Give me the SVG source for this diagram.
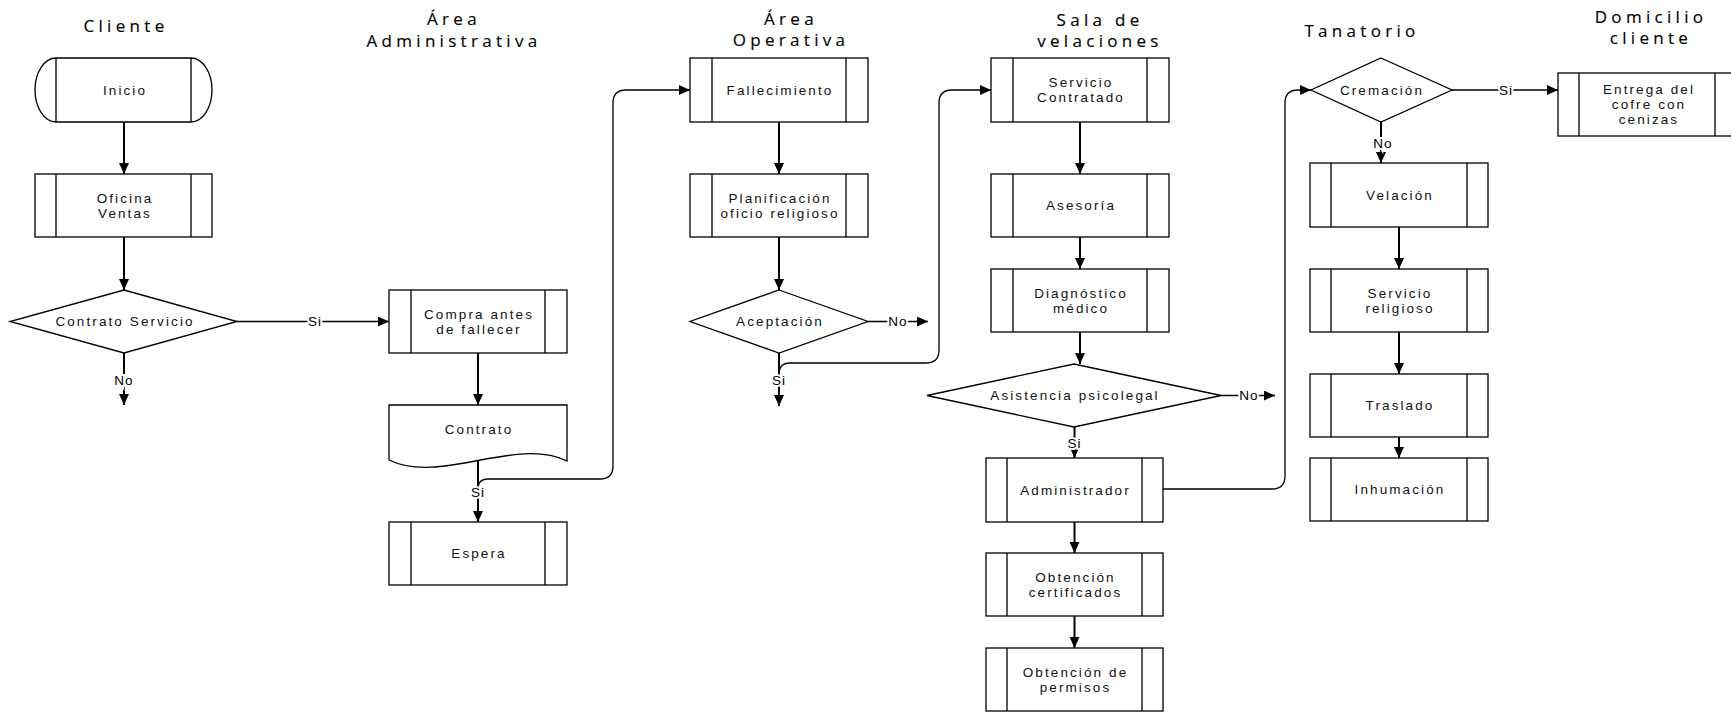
<svg xmlns="http://www.w3.org/2000/svg" width="1731" height="712" viewBox="0 0 1731 712">
<defs>
<marker id="ah" markerUnits="userSpaceOnUse" markerWidth="11" markerHeight="10" refX="11" refY="5" orient="auto">
<path d="M0,0 L11,5 L0,10 Z" fill="#000"/>
</marker>
<style>
.sh{fill:#fff;stroke:#000;stroke-width:1.3}
.ln{stroke:#000;stroke-width:1.3;fill:none}
.t{font-family:"Liberation Sans",Arial,sans-serif;font-size:13.5px;letter-spacing:2.1px;text-anchor:middle;fill:#111}
.h{font-family:"Open Sans","DejaVu Sans",sans-serif;font-size:17px;letter-spacing:4.3px;text-anchor:middle;fill:#000;stroke:#000;stroke-width:0.15px}
.cv{stroke:#000;stroke-width:2;fill:none;marker-end:url(#ah)}
.ch{stroke:#000;stroke-width:1.3;fill:none;marker-end:url(#ah)}
.lb{font-family:"Liberation Sans",Arial,sans-serif;font-size:13.5px;letter-spacing:1px;text-anchor:middle;fill:#000;stroke:#fff;stroke-width:4px;paint-order:stroke}
</style>
</defs>
<rect width="1731" height="712" fill="#fff"/>
<g id="titles">
<text class="h" x="126" y="32">Cliente</text>
<text class="h" x="454" y="25">Área</text>
<text class="h" x="454" y="47">Administrativa</text>
<text class="h" x="791" y="25">Área</text>
<text class="h" x="791" y="46">Operativa</text>
<text class="h" x="1100" y="26">Sala de</text>
<text class="h" x="1100" y="47">velaciones</text>
<text class="h" x="1362" y="37">Tanatorio</text>
<text class="h" x="1651" y="23">Domicilio</text>
<text class="h" x="1651" y="44">cliente</text>
</g>
<g id="connectors">
<path class="cv" d="M124,122 L124,174"/>
<path class="cv" d="M124,237 L124,290"/>
<path class="cv" d="M124,353 L124,405"/>
<path class="ch" d="M237,321.5 L389,321.5"/>
<path class="cv" d="M478,353 L478,405"/>
<path class="cv" d="M478,461 L478,522"/>
<path class="ch" d="M478,487 Q479,479 488,479 L600,479 Q613,479 613,466 L613,103 Q613,90 626,90 L690,90"/>
<path class="cv" d="M779,122 L779,174"/>
<path class="cv" d="M779,237 L779,290"/>
<path class="cv" d="M779,353 L779,406"/>
<path class="ch" d="M868,321.5 L928,321.5"/>
<path class="ch" d="M779,372 Q780,363 790,363 L926,363 Q939,363 939,350 L939,103 Q939,90 952,90 L991,90"/>
<path class="cv" d="M1080,122 L1080,174"/>
<path class="cv" d="M1080,237 L1080,269"/>
<path class="cv" d="M1080,332 L1080,364"/>
<path class="ch" d="M1221,395.5 L1275,395.5"/>
<path class="cv" d="M1074.5,427 L1074.5,458"/>
<path class="cv" d="M1074.5,522 L1074.5,553"/>
<path class="cv" d="M1074.5,616 L1074.5,648"/>
<path class="ch" d="M1163,489 L1272,489 Q1285,489 1285,476 L1285,103 Q1285,90 1298,90 L1311,90"/>
<path class="ch" d="M1452,90 L1558,90"/>
<path class="cv" d="M1381,122 L1381,163"/>
<path class="cv" d="M1399,227 L1399,269"/>
<path class="cv" d="M1399,332 L1399,374"/>
<path class="cv" d="M1399,437 L1399,458"/>
<text class="lb" x="124" y="385">No</text>
<text class="lb" x="315" y="326">Si</text>
<text class="lb" x="478" y="497">Si</text>
<text class="lb" x="779" y="385">Si</text>
<text class="lb" x="898" y="326">No</text>
<text class="lb" x="1249" y="400">No</text>
<text class="lb" x="1074.5" y="448">Si</text>
<text class="lb" x="1383" y="148">No</text>
<text class="lb" x="1506" y="95">Si</text>
</g>
<g id="inicio">
<path class="sh" d="M56,58 L191,58 A21,32 0 0 1 191,122 L56,122 A21,32 0 0 1 56,58 Z"/>
<path class="ln" d="M56,58 V122 M191,58 V122"/>
<text class="t" x="125" y="94.5">Inicio</text>
</g>
<g id="oficina-ventas">
<rect class="sh" x="35" y="174" width="177" height="63"/>
<path class="ln" d="M56,174 V237 M191,174 V237"/>
<text class="t" x="125" y="202.5">Oficina</text>
<text class="t" x="125" y="217.5">Ventas</text>
</g>
<g id="contrato-servicio">
<polygon class="sh" points="124,290 237,321.5 124,353 10,321.5"/>
<text class="t" x="125" y="326">Contrato Servicio</text>
</g>
<g id="compra">
<rect class="sh" x="389" y="290" width="178" height="63"/>
<path class="ln" d="M411,290 V353 M545,290 V353"/>
<text class="t" x="479" y="318.5">Compra antes</text>
<text class="t" x="479" y="333.5">de fallecer</text>
</g>
<g id="contrato">
<path class="sh" d="M389,405 L567,405 L567,461 C516,436 440,485 389,460 Z"/>
<text class="t" x="479" y="434">Contrato</text>
</g>
<g id="espera">
<rect class="sh" x="389" y="522" width="178" height="63"/>
<path class="ln" d="M411,522 V585 M545,522 V585"/>
<text class="t" x="479" y="558">Espera</text>
</g>
<g id="fallecimiento">
<rect class="sh" x="690" y="58" width="178" height="64"/>
<path class="ln" d="M712,58 V122 M846,58 V122"/>
<text class="t" x="780" y="94.5">Fallecimiento</text>
</g>
<g id="planificacion">
<rect class="sh" x="690" y="174" width="178" height="63"/>
<path class="ln" d="M712,174 V237 M846,174 V237"/>
<text class="t" x="780" y="202.5">Planificación</text>
<text class="t" x="780" y="217.5">oficio religioso</text>
</g>
<g id="aceptacion">
<polygon class="sh" points="779,290 868,321.5 779,353 690,321.5"/>
<text class="t" x="780" y="326">Aceptación</text>
</g>
<g id="servicio-contratado">
<rect class="sh" x="991" y="58" width="178" height="64"/>
<path class="ln" d="M1013,58 V122 M1147,58 V122"/>
<text class="t" x="1081" y="87">Servicio</text>
<text class="t" x="1081" y="102">Contratado</text>
</g>
<g id="asesoria">
<rect class="sh" x="991" y="174" width="178" height="63"/>
<path class="ln" d="M1013,174 V237 M1147,174 V237"/>
<text class="t" x="1081" y="210">Asesoría</text>
</g>
<g id="diagnostico">
<rect class="sh" x="991" y="269" width="178" height="63"/>
<path class="ln" d="M1013,269 V332 M1147,269 V332"/>
<text class="t" x="1081" y="297.5">Diagnóstico</text>
<text class="t" x="1081" y="312.5">médico</text>
</g>
<g id="asistencia">
<polygon class="sh" points="1074,364 1221,395.5 1074,427 927,395.5"/>
<text class="t" x="1075" y="400">Asistencia psicolegal</text>
</g>
<g id="administrador">
<rect class="sh" x="986" y="458" width="177" height="64"/>
<path class="ln" d="M1007,458 V522 M1142,458 V522"/>
<text class="t" x="1075.5" y="494.5">Administrador</text>
</g>
<g id="certificados">
<rect class="sh" x="986" y="553" width="177" height="63"/>
<path class="ln" d="M1007,553 V616 M1142,553 V616"/>
<text class="t" x="1075.5" y="581.5">Obtención</text>
<text class="t" x="1075.5" y="596.5">certificados</text>
</g>
<g id="permisos">
<rect class="sh" x="986" y="648" width="177" height="63"/>
<path class="ln" d="M1007,648 V711 M1142,648 V711"/>
<text class="t" x="1075.5" y="676.5">Obtención de</text>
<text class="t" x="1075.5" y="691.5">permisos</text>
</g>
<g id="cremacion">
<polygon class="sh" points="1381,58 1452,90 1381,122 1311,90"/>
<text class="t" x="1382" y="94.5">Cremación</text>
</g>
<g id="entrega">
<rect class="sh" x="1558" y="73" width="178" height="63"/>
<path class="ln" d="M1579,73 V136 M1715,73 V136"/>
<text class="t" x="1649" y="94">Entrega del</text>
<text class="t" x="1649" y="109">cofre con</text>
<text class="t" x="1649" y="124">cenizas</text>
</g>
<g id="velacion">
<rect class="sh" x="1310" y="163" width="178" height="64"/>
<path class="ln" d="M1331,163 V227 M1467,163 V227"/>
<text class="t" x="1400" y="199.5">Velación</text>
</g>
<g id="servicio-religioso">
<rect class="sh" x="1310" y="269" width="178" height="63"/>
<path class="ln" d="M1331,269 V332 M1467,269 V332"/>
<text class="t" x="1400" y="297.5">Servicio</text>
<text class="t" x="1400" y="312.5">religioso</text>
</g>
<g id="traslado">
<rect class="sh" x="1310" y="374" width="178" height="63"/>
<path class="ln" d="M1331,374 V437 M1467,374 V437"/>
<text class="t" x="1400" y="410">Traslado</text>
</g>
<g id="inhumacion">
<rect class="sh" x="1310" y="458" width="178" height="63"/>
<path class="ln" d="M1331,458 V521 M1467,458 V521"/>
<text class="t" x="1400" y="494">Inhumación</text>
</g>
</svg>
